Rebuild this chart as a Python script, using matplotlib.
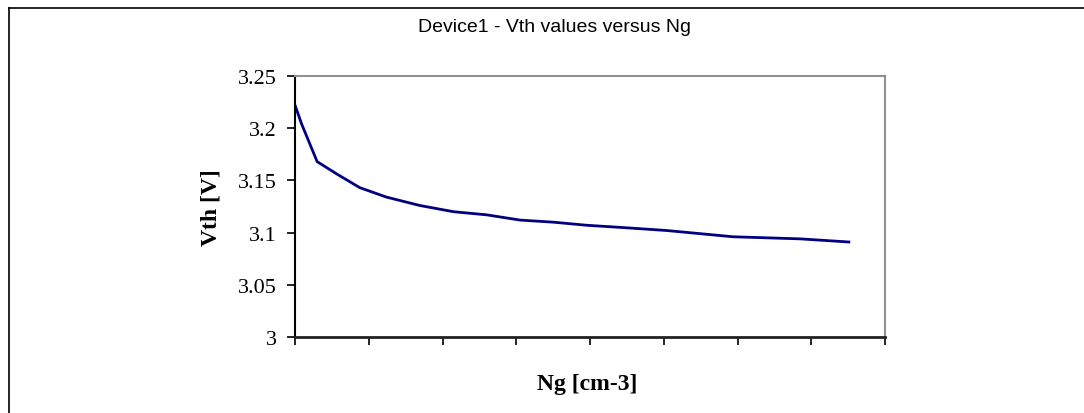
import matplotlib
matplotlib.use('Agg')
from matplotlib import pyplot as plt
from matplotlib.lines import Line2D

# Vth against gate doping (x in arbitrary axis units, no tick labels)
ng = [0.0, 0.09, 0.30, 0.57, 0.88, 1.24, 1.69, 2.15, 2.60, 3.05, 3.50,
      3.96, 4.41, 5.04, 5.94, 6.85, 7.51]
vth = [3.222, 3.204, 3.168, 3.156, 3.143, 3.134, 3.126, 3.120, 3.117,
       3.112, 3.110, 3.107, 3.105, 3.102, 3.096, 3.094, 3.091]
yticks = [3, 3.05, 3.1, 3.15, 3.2, 3.25]
ytick_labels = ['3', '3.05', '3.1', '3.15', '3.2', '3.25']

W, H = 1084, 414
fig = plt.figure(figsize=(W / 100, H / 100), dpi=100)
ax = fig.add_axes([295 / W, (H - 338) / H, 590 / W, 261 / H])

ax.plot(ng, vth, color='#000080', linewidth=2.0, solid_joinstyle='miter')

ax.set_xlim(0, 8)
ax.set_ylim(3, 3.25)
ax.set_xticks(range(0, 9))
ax.set_xticklabels([])
ax.set_yticks(yticks)
ax.set_yticklabels(ytick_labels, family='Liberation Serif', fontsize=16)

for side in ['top', 'right']:
    ax.spines[side].set_color('#909090')
    ax.spines[side].set_linewidth(1.5)
ax.spines['left'].set_color('black')
ax.spines['left'].set_linewidth(1.5)
ax.spines['bottom'].set_color('#222222')
ax.spines['bottom'].set_linewidth(2.0)
ax.tick_params(axis='both', direction='out', length=6, width=1.2, color='black', pad=3)
ax.tick_params(axis='y', pad=7)

fig.text(554 / W, 1 - 28 / H, 'Device1 - Vth values versus Ng', ha='center', va='center',
         family='Liberation Sans', fontsize=14)
fig.text(211 / W, 1 - 208 / H, 'Vth [V]', ha='center', va='center', rotation=90,
         family='Liberation Serif', fontweight='bold', fontsize=17)
fig.text(587 / W, 1 - 385 / H, 'Ng [cm-3]', ha='center', va='center',
         family='Liberation Serif', fontweight='bold', fontsize=17)

# chart frame (left and top edges)
fig.add_artist(Line2D([8.5 / W, 8.5 / W], [0, 1 - 8.5 / H], color='black', linewidth=1.2))
fig.add_artist(Line2D([8.5 / W, 1], [1 - 8.5 / H, 1 - 8.5 / H], color='black', linewidth=1.2))

fig.savefig('out.png', dpi=100, facecolor='white')
